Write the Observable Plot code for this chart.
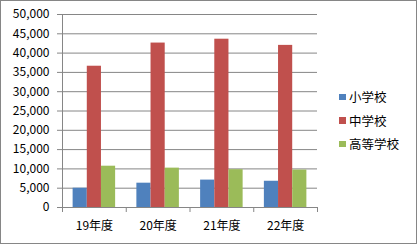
<!DOCTYPE html>
<html><head><meta charset="utf-8">
<script src="https://cdn.jsdelivr.net/npm/d3@7"></script>
<script src="https://cdn.jsdelivr.net/npm/@observablehq/plot@0.6"></script>
<style>
body{margin:0;background:#fff;}
#wrap{position:relative;width:417px;height:244px;font-family:"Noto Sans CJK JP",sans-serif;overflow:hidden;}
#wrap svg{position:absolute;left:0;top:0;}
#border{position:absolute;left:0;top:0;width:417px;height:244px;box-sizing:border-box;border:1px solid #868686;pointer-events:none;}
#legend{position:absolute;left:339px;top:85px;font-size:12.5px;color:#000;}
.row{height:23.5px;display:flex;align-items:center;white-space:nowrap;}
.sw{width:6.5px;height:6.5px;margin-right:3.5px;flex:none;}
</style></head>
<body><div id="wrap"></div>
<script>
const years = ["19年度", "20年度", "21年度", "22年度"];
const schools = ["小学校", "中学校", "高等学校"];
const elementary = [5000, 6300, 7100, 6800];
const juniorHigh = [36600, 42600, 43600, 42000];
const highSchool = [10700, 10200, 9800, 9700];
const colors = ["#4F81BD", "#C0504D", "#9BBB59"];
const yTicks = d3.range(0, 50001, 5000);

const series = [elementary, juniorHigh, highSchool];
const gapWidth = 1.5; // Excel gap width 150%
const w = 1 / (schools.length + gapWidth);
const data = years.flatMap((yr, i) => series.map((s, j) => ({
  year: yr, school: schools[j], value: s[i],
  x1: i + 0.5 + (j - schools.length / 2) * w,
  x2: i + 0.5 + (j - schools.length / 2 + 1) * w
})));
const bounds = d3.range(0, years.length + 1);
const centers = years.map((d, i) => i + 0.5);

const chart = Plot.plot({
  width: 417, height: 244,
  marginLeft: 62, marginRight: 100, marginTop: 14, marginBottom: 37,
  style: {fontFamily: "'Noto Sans CJK JP', sans-serif", fontSize: "12px", color: "#000", background: "transparent", overflow: "visible"},
  x: {type: "linear", domain: [0, years.length]},
  y: {domain: [0, 50000]},
  color: {domain: schools, range: colors},
  marks: [
    Plot.gridY(yTicks, {stroke: "#868686", strokeOpacity: 1}),
    Plot.rect(data, {x1: "x1", x2: "x2", y1: 0, y2: "value", fill: "school"}),
    Plot.ruleX([0], {stroke: "#868686"}),
    Plot.ruleY([0], {stroke: "#868686"}),
    Plot.axisY(yTicks, {tickSize: 5, tickPadding: 8, tickFormat: d3.format(","), stroke: "#868686", fill: "#000", label: null}),
    Plot.axisX(bounds, {tickSize: 5, tickFormat: () => "", stroke: "#868686", label: null}),
    Plot.text(years, {x: (d, i) => centers[i], frameAnchor: "bottom", dy: 19, lineAnchor: "middle", fill: "#000", fontSize: 12})
  ]
});

const wrap = document.getElementById("wrap");
wrap.appendChild(chart);
const legend = document.createElement("div");
legend.id = "legend";
schools.forEach((s, i) => {
  const row = document.createElement("div");
  row.className = "row";
  const sw = document.createElement("span");
  sw.className = "sw";
  sw.style.background = colors[i];
  const t = document.createElement("span");
  t.textContent = s;
  row.appendChild(sw); row.appendChild(t);
  legend.appendChild(row);
});
wrap.appendChild(legend);
const border = document.createElement("div");
border.id = "border";
wrap.appendChild(border);
</script></body></html>
